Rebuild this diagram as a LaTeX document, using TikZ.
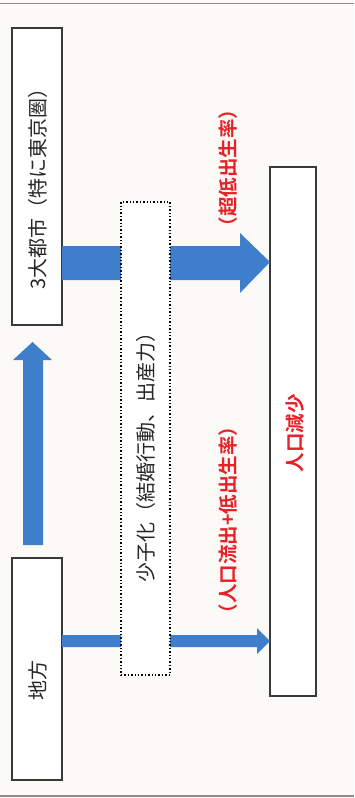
\documentclass[tikz,border=0pt]{standalone}
\usepackage{fontspec}
\newfontfamily\jp[BoldFont={Noto Sans CJK JP Bold}]{Noto Sans CJK JP}
\definecolor{paper}{RGB}{251,250,246}
\definecolor{arrowblue}{RGB}{62,126,202}
\definecolor{labelred}{RGB}{232,32,40}
\definecolor{boxline}{RGB}{55,60,58}
\tikzset{
  framebox/.style={draw=boxline, line width=2.4pt, fill=white, inner sep=0pt},
  dotbox/.style={draw=black, dotted, line width=1.4pt, fill=white, inner sep=0pt},
  blacktext/.style={rotate=90, font=\jp\fontsize{20}{24}\selectfont, text=black!85, inner sep=0pt},
  redtext/.style={rotate=90, font=\jp\bfseries\fontsize{19.5}{24}\selectfont, text=labelred, inner sep=0pt},
  bluearrow/.style={fill=arrowblue, draw=none},
  rule/.style={draw=black!45, line width=1.2pt}
}
\begin{document}
\begin{tikzpicture}[x=1pt,y=-1pt]
\fill[paper] (0,0) rectangle (354,798);
\useasboundingbox (0,0) rectangle (354,798);
\coordinate (tl) at (0,3.5);
\coordinate (tr) at (354,3.5);
\coordinate (bl) at (0,796);
\coordinate (br) at (354,796);
\draw[rule] (tl) -- (tr);
\draw[rule] (bl) -- (br);

% boxes
\node[framebox, minimum width=50pt, minimum height=297pt] (city) at (37,176.5) {};
\node[framebox, minimum width=50pt, minimum height=222pt] (local) at (37,669) {};
\node[framebox, minimum width=46pt, minimum height=529pt] (decline) at (293,431.5) {};

% arrows
\draw[bluearrow] (62,246) -- (240,246) -- (240,233) -- (270,262) -- (240,293) -- (240,280) -- (62,280) -- cycle;
\draw[bluearrow] (62,635) -- (257,635) -- (257,628) -- (270,641) -- (257,654) -- (257,647) -- (62,647) -- cycle;
\draw[bluearrow] (23,545) -- (23,360) -- (13,360) -- (32.5,342) -- (52,360) -- (43,360) -- (43,545) -- cycle;

% dotted box
\node[dotbox, minimum width=49pt, minimum height=473pt] (shoshi) at (145.5,438.5) {};

% texts
\node[blacktext] (citytext) at (38,184) {3大都市（特に東京圏）};
\node[blacktext] (localtext) at (38,680) {地方};
\node[blacktext] (shoshitext) at (145.5,452) {少子化（結婚行動、出産力）};
\node[redtext] (low1) at (228,168) {（超低出生率）};
\node[redtext] (low2) at (228,520) {（人口流出+低出生率）};
\node[redtext] (decltext) at (295,433) {人口減少};
\end{tikzpicture}
\end{document}
